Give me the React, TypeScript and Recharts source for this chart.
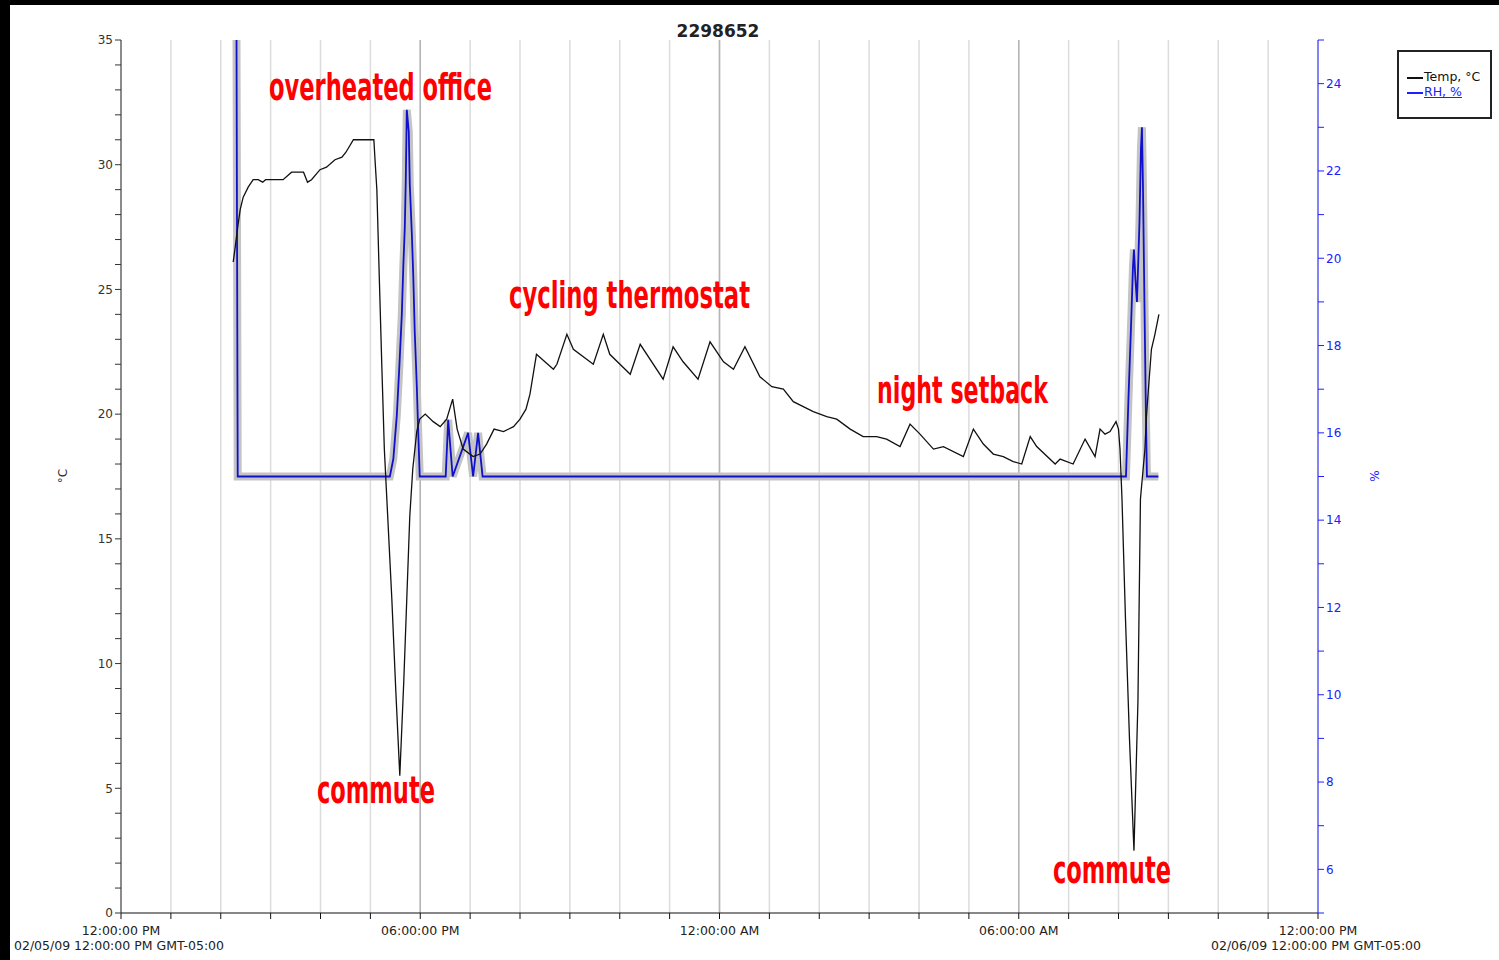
import React from 'react';
import { LineChart, Line, XAxis, YAxis, CartesianGrid, ReferenceLine } from 'recharts';

// Hours after 12:00:00 PM 02/05/09
const tempHours = [
  2.25, 2.29, 2.34, 2.39, 2.45, 2.55, 2.65, 2.75, 2.84, 2.90, 3.25, 3.42, 3.66, 3.74, 3.82, 3.99,
  4.12, 4.29, 4.43, 4.51, 4.66, 4.76, 5.07, 5.09, 5.13, 5.18, 5.23, 5.28, 5.33, 5.43, 5.51, 5.59,
  5.67, 5.73, 5.79, 5.85, 5.93, 5.99, 6.10, 6.26, 6.40, 6.53, 6.65, 6.74, 6.86, 7.06, 7.20, 7.33,
  7.48, 7.67, 7.87, 8.00, 8.12, 8.20, 8.33, 8.67, 8.74, 8.94, 9.07, 9.47, 9.67, 9.80, 10.21, 10.41,
  10.87, 11.07, 11.27, 11.57, 11.81, 12.08, 12.28, 12.51, 12.81, 13.05, 13.28, 13.48, 13.88, 14.15,
  14.35, 14.62, 14.88, 15.15, 15.35, 15.62, 15.82, 16.02, 16.29, 16.49, 16.89, 17.09, 17.29, 17.49,
  17.69, 17.89, 18.06, 18.23, 18.36, 18.73, 18.83, 19.09, 19.33, 19.53, 19.63, 19.73, 19.83, 19.95,
  20.00, 20.03, 20.07, 20.14, 20.22, 20.31, 20.39, 20.44, 20.53, 20.56, 20.60, 20.66, 20.73, 20.81,
];
const tempValues = [
  26.1, 26.7, 27.5, 28.2, 28.7, 29.1, 29.4, 29.4, 29.3, 29.4, 29.4, 29.7, 29.7, 29.3, 29.4, 29.8,
  29.9, 30.2, 30.3, 30.5, 31.0, 31.0, 31.0, 30.3, 29.0, 25.4, 21.9, 18.6, 16.6, 12.6, 8.9, 5.5,
  9.3, 12.6, 15.9, 17.8, 19.3, 19.8, 20.0, 19.7, 19.5, 19.8, 20.6, 19.4, 18.6, 18.3, 18.4, 18.8,
  19.4, 19.3, 19.5, 19.8, 20.2, 20.8, 22.4, 21.8, 22.0, 23.2, 22.6, 22.0, 23.2, 22.4, 21.6, 22.8,
  21.4, 22.7, 22.1, 21.4, 22.9, 22.1, 21.8, 22.7, 21.5, 21.1, 21.0, 20.5, 20.1, 19.9,
  19.8, 19.4, 19.1, 19.1, 19.0, 18.7, 19.6, 19.2, 18.6, 18.7, 18.3, 19.4, 18.8, 18.4,
  18.3, 18.1, 18.0, 19.1, 18.7, 18.0, 18.2, 18.0, 19.0, 18.3, 19.4, 19.2, 19.3, 19.7,
  19.4, 18.6, 16.6, 11.8, 7.0, 2.5, 8.5, 16.6, 18.6, 19.9, 21.0, 22.6, 23.2, 24.0,
];

const rhHours = [
  2.28, 2.34, 5.39, 5.46, 5.53, 5.58, 5.63, 5.66, 5.69, 5.71, 5.73, 5.77, 5.79, 5.83, 5.86, 5.89,
  5.93, 5.96, 5.99, 6.51, 6.56, 6.65, 6.96, 7.06, 7.16, 7.25, 20.15, 20.20, 20.25, 20.29, 20.31,
  20.34, 20.37, 20.39, 20.42, 20.45, 20.47, 20.49, 20.52, 20.55, 20.57, 20.80,
];
const rhValues = [
  40, 15, 15, 15.4, 16.4, 17.5, 18.7, 19.8, 20.7, 21.8, 23.4, 22.9, 21.7, 20.6, 19.6, 18.3,
  17.1, 16.0, 15, 15, 16.3, 15, 16.0, 15, 16.0, 15, 15, 16.8, 18.4, 19.8, 20.2,
  19.5, 19.0, 19.7, 20.8, 22.5, 23.0, 21.7, 19.0, 16.4, 15, 15,
];

const hourTicks = [0, 1, 2, 3, 4, 5, 6, 7, 8, 9, 10, 11, 12, 13, 14, 15, 16, 17, 18, 19, 20, 21, 22, 23, 24];
const majorHours = [6, 12, 18];
const labelHours = [0, 6, 12, 18, 24];
const labelTexts = ['12:00:00 PM', '06:00:00 PM', '12:00:00 AM', '06:00:00 AM', '12:00:00 PM'];
const dateTexts = ['02/05/09 12:00:00 PM GMT-05:00', '', '', '', '02/06/09 12:00:00 PM GMT-05:00'];
const tempTicks = [0, 1, 2, 3, 4, 5, 6, 7, 8, 9, 10, 11, 12, 13, 14, 15, 16, 17, 18, 19, 20, 21, 22, 23, 24, 25, 26, 27, 28, 29, 30, 31, 32, 33, 34, 35];
const rhTicks = [5, 6, 7, 8, 9, 10, 11, 12, 13, 14, 15, 16, 17, 18, 19, 20, 21, 22, 23, 24, 25];

const tempData = tempHours.map((t, i) => ({ t, temp: tempValues[i] }));
const rhData = rhHours.map((t, i) => ({ t, rh: rhValues[i] }));

const FONT = '"DejaVu Sans", Verdana, sans-serif';
const ANN_FONT = '"Liberation Sans Narrow", "DejaVu Sans Condensed", sans-serif';

const XTick = (props: any) => {
  const { x, y, payload } = props;
  const idx = labelHours.indexOf(payload.value);
  if (idx < 0) return <g />;
  return (
    <g>
      <text x={x} y={y + 14} textAnchor="middle" fontSize={12.5} fontFamily={FONT} fill="#222">
        {labelTexts[idx]}
      </text>
      {dateTexts[idx] ? (
        <text x={x - 2} y={y + 29} textAnchor="middle" fontSize={12.5} fontFamily={FONT} fill="#222">
          {dateTexts[idx]}
        </text>
      ) : null}
    </g>
  );
};

const annotations = [
  { text: 'overheated office', x: 269, y: 100, w: 223 },
  { text: 'cycling thermostat', x: 509, y: 308, w: 241 },
  { text: 'night setback', x: 877, y: 403, w: 171 },
  { text: 'commute', x: 317, y: 803, w: 118 },
  { text: 'commute', x: 1053, y: 883, w: 118 },
];

export default function App() {
  return (
    <div style={{ position: 'relative', width: 1499, height: 960, background: '#fff', overflow: 'hidden' }}>
      <style>{'body{margin:0;}'}</style>
      <div style={{ position: 'absolute', left: 0, top: 0 }}>
        <LineChart width={1499} height={960} margin={{ top: 40, right: 121, bottom: 7, left: 61 }}>
          <CartesianGrid horizontal={false} vertical stroke="#dcdcdc" strokeWidth={1.5} yAxisId="left" />
          <XAxis
            dataKey="t"
            type="number"
            domain={[0, 24]}
            ticks={hourTicks}
            interval={0}
            height={40}
            tick={<XTick />}
            stroke="#111"
            tickSize={6}
            allowDataOverflow
          />
          <YAxis
            yAxisId="left"
            orientation="left"
            domain={[0, 35]}
            ticks={tempTicks}
            interval={0}
            width={60}
            stroke="#333"
            tickSize={6}
            tickFormatter={(v: number) => (v % 5 === 0 ? String(v) : '')}
            tick={{ fontSize: 12, fontFamily: FONT, fill: '#333' }}
          />
          <YAxis
            yAxisId="right"
            orientation="right"
            domain={[5, 25]}
            ticks={rhTicks}
            interval={0}
            width={60}
            stroke="#2020ff"
            tickSize={6}
            allowDataOverflow
            tickFormatter={(v: number) => (v % 2 === 0 && v !== 25 && v !== 5 ? String(v) : '')}
            tick={{ fontSize: 12, fontFamily: FONT, fill: '#2020ff' }}
          />
          {majorHours.map((h) => (
            <ReferenceLine key={h} x={h} yAxisId="left" stroke="#b4b4b4" strokeWidth={1.5} />
          ))}
          <Line
            data={rhData}
            dataKey="rh"
            yAxisId="right"
            stroke="#c4c4c4"
            strokeWidth={8}
            dot={false}
            isAnimationActive={false}
            legendType="none"
          />
          <Line
            data={rhData}
            dataKey="rh"
            yAxisId="right"
            stroke="#1010cc"
            strokeWidth={1.8}
            dot={false}
            isAnimationActive={false}
          />
          <Line
            data={tempData}
            dataKey="temp"
            yAxisId="left"
            stroke="#111"
            strokeWidth={1.3}
            dot={false}
            isAnimationActive={false}
          />
        </LineChart>
      </div>
      <svg
        width={1499}
        height={960}
        style={{ position: 'absolute', left: 0, top: 0, pointerEvents: 'none' }}
      >
        <text x={718} y={37} textAnchor="middle" fontSize={17} fontWeight="bold" fontFamily={FONT} fill="#222">
          2298652
        </text>
        <text
          x={0}
          y={0}
          transform="translate(67,476) rotate(-90)"
          textAnchor="middle"
          fontSize={12}
          fontFamily={FONT}
          fill="#333"
        >
          °C
        </text>
        <text
          x={0}
          y={0}
          transform="translate(1379,476) rotate(-90)"
          textAnchor="middle"
          fontSize={12}
          fontFamily={FONT}
          fill="#2020ff"
        >
          %
        </text>
        {annotations.map((a, i) => (
          <text
            key={i}
            x={a.x}
            y={a.y}
            fontSize={38}
            fontWeight="bold"
            fontFamily={ANN_FONT}
            fill="#ff0000"
            textLength={a.w}
            lengthAdjust="spacingAndGlyphs"
          >
            {a.text}
          </text>
        ))}
      </svg>
      <div
        style={{
          position: 'absolute',
          left: 1397,
          top: 50,
          width: 95,
          height: 69,
          boxSizing: 'border-box',
          border: '2px solid #222',
          background: '#fff',
          fontFamily: FONT,
          fontSize: 12.5,
        }}
      >
        <div style={{ position: 'absolute', left: 8, top: 25, width: 16, height: 2, background: '#111' }} />
        <div style={{ position: 'absolute', left: 25, top: 17, color: '#111', lineHeight: '16px', whiteSpace: 'nowrap' }}>
          Temp, °C
        </div>
        <div style={{ position: 'absolute', left: 8, top: 40, width: 16, height: 2, background: '#2020ff' }} />
        <div
          style={{
            position: 'absolute',
            left: 25,
            top: 32,
            color: '#2020ff',
            lineHeight: '16px',
            textDecoration: 'underline',
            whiteSpace: 'nowrap',
          }}
        >
          RH, %
        </div>
      </div>
      <div style={{ position: 'absolute', left: 0, top: 0, width: 1499, height: 5, background: '#000' }} />
      <div style={{ position: 'absolute', left: 0, top: 0, width: 10, height: 960, background: '#000' }} />
    </div>
  );
}
